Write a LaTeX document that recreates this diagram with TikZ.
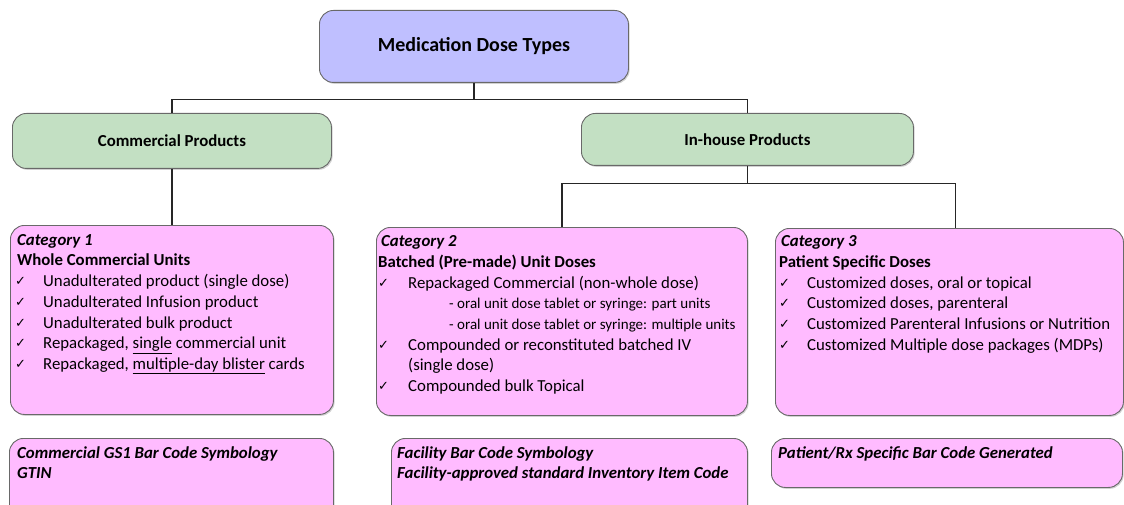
\documentclass[tikz,border=0pt]{standalone}
\usepackage{fontspec}
\setmainfont{Carlito}
\newfontfamily\symfont{DejaVu Sans}
\usetikzlibrary{shadows}

\definecolor{topfill}{RGB}{191,191,255}
\definecolor{grpfill}{RGB}{195,224,195}
\definecolor{catfill}{RGB}{255,187,255}
\definecolor{boxline}{RGB}{105,105,105}

% check mark followed by a fixed indent
\newcommand{\chk}[1]{\makebox[#1][l]{\raisebox{1pt}{\symfont\fontsize{13}{10}\selectfont ✓}}}

\tikzset{
  box/.style={draw=boxline, line width=0.9pt, rounded corners=14pt, anchor=north west,
    inner sep=0pt, drop shadow={shadow xshift=1.2pt, shadow yshift=-1.4pt, opacity=0.3, fill=black!60}},
  topbox/.style={box, fill=topfill},
  grpbox/.style={box, fill=grpfill},
  catbox/.style={box, fill=catfill},
  body/.style={anchor=north west, inner sep=0pt, align=left,
    font=\fontsize{16.8}{20.7}\selectfont},
  title/.style={font=\bfseries\fontsize{20}{24}\selectfont},
  grptext/.style={font=\bfseries\fontsize{16.8}{20}\selectfont},
  link/.style={draw=black!85, line width=1.1pt}
}

\begin{document}
\begin{tikzpicture}[x=1pt, y=-1pt]
\useasboundingbox (0,0) rectangle (1124,505);
\clip (0,0) rectangle (1124,505);

% hierarchy boxes
\node[topbox, minimum width=309pt, minimum height=72pt] (top) at (319,10) {};
\node[title] (toptxt) at (top.center) {Medication Dose Types};

\node[grpbox, minimum width=319pt, minimum height=55pt] (comm) at (12,113) {};
\node[grptext] (commtxt) at (comm.center) {Commercial Products};

\node[grpbox, minimum width=332pt, minimum height=52pt] (inh) at (581,113) {};
\node[grptext] (inhtxt) at (inh.center) {In-house Products};

\node[catbox, minimum width=323pt, minimum height=189pt] (cat1) at (10,225) {};
\node[catbox, minimum width=371pt, minimum height=188pt] (cat2) at (376,227) {};
\node[catbox, minimum width=348pt, minimum height=187pt] (cat3) at (775,228) {};

\node[catbox, minimum width=324pt, minimum height=95pt] (bar1) at (9,438) {};
\node[catbox, minimum width=356pt, minimum height=95pt] (bar2) at (391,438) {};
\node[catbox, minimum width=351pt, minimum height=49pt] (bar3) at (771,438) {};

% connectors
\draw[link] (top.south) -- ++(0,17) coordinate (j1) -| (comm.north);
\draw[link] (j1) -| (inh.north);
\draw[link] (comm.south) -- (cat1.north);
\draw[link] (inh.south) -- ++(0,18) coordinate (j2) -| (cat2.north);
\draw[link] (j2) -| ([xshift=6pt]cat3.north);

% category texts
\node[body] (cat1txt) at (15,234) {%
  \hspace*{2pt}\textbf{\textit{Category 1}}\\
  \hspace*{2pt}\textbf{Whole Commercial Units}\\
  \chk{28pt}Unadulterated product (single dose)\\
  \chk{28pt}Unadulterated Infusion product\\
  \chk{28pt}Unadulterated bulk product\\
  \chk{28pt}Repackaged, \underline{single} commercial unit\\
  \chk{28pt}Repackaged, \underline{multiple-day blister} cards};

\node[body] (cat2txt) at (378,235.5) {%
  \hspace*{3pt}\textbf{\textit{Category 2}}\\
  \textbf{Batched (Pre-made) Unit Doses}\\
  \chk{30pt}Repackaged Commercial (non-whole dose)\\
  \hspace*{71pt}{\fontsize{15}{18}\selectfont - oral unit dose tablet or syringe: part units}\\
  \hspace*{71pt}{\fontsize{15}{18}\selectfont - oral unit dose tablet or syringe: multiple units}\\
  \chk{30pt}Compounded or reconstituted batched IV\\
  \hspace*{30pt}(single dose)\\
  \chk{30pt}Compounded bulk Topical};

\node[body] (cat3txt) at (779,235.5) {%
  \hspace*{2pt}\textbf{\textit{Category 3}}\\
  \textbf{Patient Specific Doses}\\
  \chk{28pt}Customized doses, oral or topical\\
  \chk{28pt}Customized doses, parenteral\\
  \chk{28pt}Customized Parenteral Infusions or Nutrition\\
  \chk{28pt}Customized Multiple dose packages (MDPs)};

% bar code texts
\node[body, font=\bfseries\itshape\fontsize{16.8}{20.5}\selectfont] (bar1txt) at (17,446.5) {%
  Commercial GS1 Bar Code Symbology\\ GTIN};
\node[body, font=\bfseries\itshape\fontsize{16.8}{20.5}\selectfont] (bar2txt) at (397,446.5) {%
  Facility Bar Code Symbology\\ Facility-approved standard Inventory Item Code};
\node[body, font=\bfseries\itshape\fontsize{16.8}{20.5}\selectfont] (bar3txt) at (778,446.5) {%
  Patient/Rx Specific Bar Code Generated};
\end{tikzpicture}
\end{document}
